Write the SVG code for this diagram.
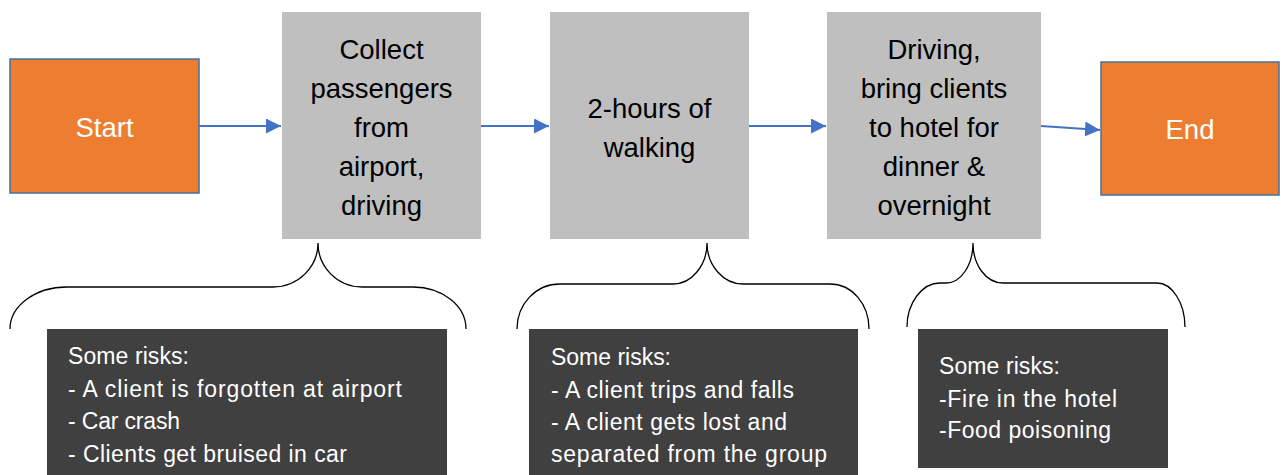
<svg xmlns="http://www.w3.org/2000/svg" width="1282" height="475" viewBox="0 0 1282 475">
<style>
.term{fill:#ED7D31;stroke:#41719C;stroke-width:1.5}
.step{fill:#BFBFBF}
.risk{fill:#404040}
.tw{font-family:"Liberation Sans",Arial,sans-serif;font-size:27.5px;fill:#FFFFFF;text-anchor:middle}
.tb{font-family:"Liberation Sans",Arial,sans-serif;font-size:27.5px;fill:#000000;text-anchor:middle}
.rt{font-family:"Liberation Sans",Arial,sans-serif;font-size:23px;fill:#FFFFFF}
.conn{stroke:#4472C4;stroke-width:2;fill:none}
.brace{stroke:#000000;stroke-width:1.3;fill:none}
</style>
<defs>
<marker id="ah" viewBox="0 0 15 15" refX="15" refY="7.5" markerWidth="15" markerHeight="15" markerUnits="userSpaceOnUse" orient="auto">
<path d="M0,0 L15,7.5 L0,15 z" fill="#4472C4"/>
</marker>
</defs>
<g id="start">
<rect class="term" x="10" y="59" width="189" height="134"/>
<text class="tw" x="104.5" y="137">Start</text>
</g>
<g id="collect">
<rect class="step" x="282" y="12" width="199" height="227"/>
<text class="tb" x="381.5" y="59">Collect</text>
<text class="tb" x="381.5" y="98">passengers</text>
<text class="tb" x="381.5" y="137">from</text>
<text class="tb" x="381.5" y="176">airport,</text>
<text class="tb" x="381.5" y="215">driving</text>
</g>
<g id="walking">
<rect class="step" x="550" y="12" width="199" height="227"/>
<text class="tb" x="649.5" y="118">2-hours of</text>
<text class="tb" x="649.5" y="157">walking</text>
</g>
<g id="hotel">
<rect class="step" x="827" y="12" width="214" height="227"/>
<text class="tb" x="934" y="59">Driving,</text>
<text class="tb" x="934" y="98">bring clients</text>
<text class="tb" x="934" y="137">to hotel for</text>
<text class="tb" x="934" y="176">dinner &amp;</text>
<text class="tb" x="934" y="215">overnight</text>
</g>
<g id="end">
<rect class="term" x="1101" y="62" width="178" height="133"/>
<text class="tw" x="1190" y="139">End</text>
</g>
<g id="connectors">
<line class="conn" x1="199" y1="126" x2="281" y2="126" marker-end="url(#ah)"/>
<line class="conn" x1="481" y1="126" x2="549" y2="126" marker-end="url(#ah)"/>
<line class="conn" x1="749" y1="126" x2="826" y2="126" marker-end="url(#ah)"/>
<line class="conn" x1="1041" y1="126" x2="1100" y2="130" marker-end="url(#ah)"/>
</g>
<g id="brace1">
<path class="brace" d="M10,329 C10,305.8 35.5,287 67,287 L273,287 C297.8,287 318,267.3 318,243 C318,267.3 337.7,287 362,287 L413,287 C442.3,287 466,305.8 466,329"/>
</g>
<g id="brace2">
<path class="brace" d="M517,329 C517,304 536,284 560,284 L673,284 C692,284 707,265 707,243 C707,265 723,284 743,284 L830,284 C852,284 869,304 869,329"/>
</g>
<g id="brace3">
<path class="brace" d="M907,327 C907,303 922,283 940,283 L946,283 C961,283 973,265 973,243 C973,265 986,283 1003,283 L1157,283 C1172,283 1185,303 1185,327"/>
</g>
<g id="risks1">
<rect class="risk" x="47" y="329" width="400" height="146"/>
<text class="rt" x="68" y="364" textLength="121" lengthAdjust="spacing">Some risks:</text>
<text class="rt" x="68" y="397" textLength="334" lengthAdjust="spacing">- A client is forgotten at airport</text>
<text class="rt" x="68" y="429" textLength="112" lengthAdjust="spacing">- Car crash</text>
<text class="rt" x="68" y="462" textLength="279" lengthAdjust="spacing">- Clients get bruised in car</text>
</g>
<g id="risks2">
<rect class="risk" x="529" y="329" width="329" height="146"/>
<text class="rt" x="551" y="365" textLength="120" lengthAdjust="spacing">Some risks:</text>
<text class="rt" x="551" y="398" textLength="243" lengthAdjust="spacing">- A client trips and falls</text>
<text class="rt" x="551" y="430" textLength="236" lengthAdjust="spacing">- A client gets lost and</text>
<text class="rt" x="551" y="462" textLength="276" lengthAdjust="spacing">separated from the group</text>
</g>
<g id="risks3">
<rect class="risk" x="918" y="329" width="250" height="139"/>
<text class="rt" x="939" y="374" textLength="121" lengthAdjust="spacing">Some risks:</text>
<text class="rt" x="939" y="407" textLength="178" lengthAdjust="spacing">-Fire in the hotel</text>
<text class="rt" x="939" y="438" textLength="172" lengthAdjust="spacing">-Food poisoning</text>
</g>
</svg>
